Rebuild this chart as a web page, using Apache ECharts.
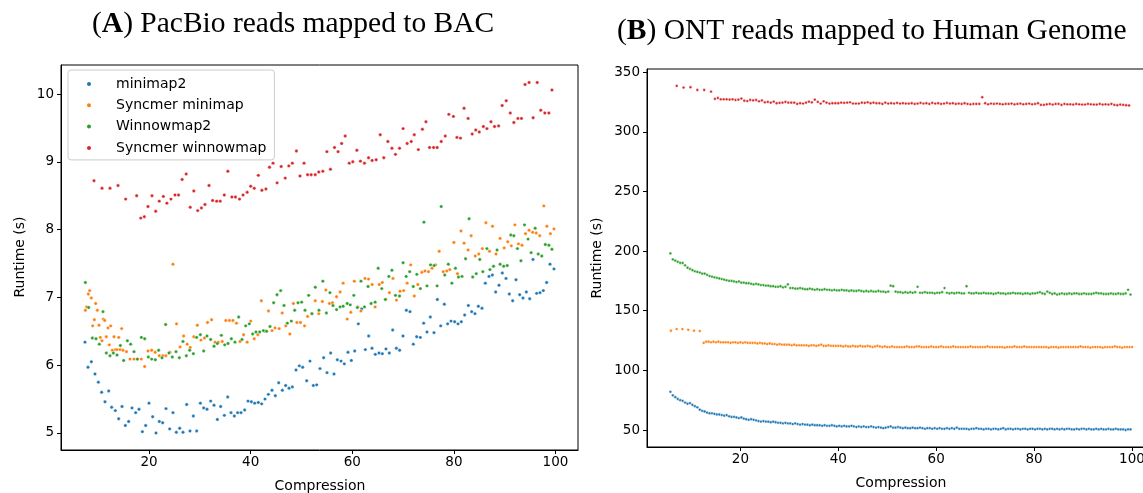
<!DOCTYPE html>
<html>
<head>
<meta charset="utf-8">
<script src="https://cdn.jsdelivr.net/npm/echarts@6/dist/echarts.min.js"></script>
<style>
  html, body { margin: 0; padding: 0; background: #ffffff; }
  #chart { width: 1143px; height: 493px; }
</style>
</head>
<body>
<div id="chart"></div>
<script>
// ---- series names and colours -------------------------------------------
const seriesNames = ['minimap2', 'Syncmer minimap', 'Winnowmap2', 'Syncmer winnowmap'];
const palette = ['#1f77b4', '#ff7f0e', '#2ca02c', '#d62728'];

// ---- tick labels -----------------------------------------------------------
const compressionTicks = [20, 40, 60, 80, 100];
const bacRuntimeTicks = [5, 6, 7, 8, 9, 10];
const genomeRuntimeTicks = [50, 100, 150, 200, 250, 300, 350];

// ---- (A) PacBio reads mapped to BAC: [compression, runtime (s)] ----------
const bacMinimap = [
  [7.38,6.34],[7.97,5.97],[8.63,6.05],[9.35,5.87],[10.01,5.75],[10.66,5.60],[11.32,5.46],[12.04,5.62],[12.63,5.38],[13.35,5.33],
  [14.01,5.21],[14.67,5.39],[15.32,5.11],[15.98,5.17],[16.63,5.37],[17.36,5.30],[18.01,5.35],[18.67,5.02],[19.32,5.11],[19.98,5.44],
  [20.70,5.24],[21.36,5.00],[22.01,5.17],[22.67,5.15],[23.33,5.36],[24.05,5.06],[24.70,5.30],[25.36,5.01],[26.02,5.07],[26.67,5.01],
  [27.40,5.42],[28.05,5.03],[28.71,5.25],[29.36,5.03],[30.09,5.44],[30.74,5.37],[31.40,5.35],[32.12,5.47],[32.78,5.41],[33.43,5.20],
  [34.09,5.39],[34.81,5.26],[35.47,5.53],[36.12,5.30],[36.78,5.25],[37.43,5.30],[38.09,5.30],[38.81,5.34],[39.47,5.47],[40.12,5.46],
  [40.78,5.44],[41.50,5.45],[42.16,5.43],[42.81,5.50],[43.47,5.57],[44.19,5.63],[44.85,5.55],[45.51,5.74],[46.23,5.63],[46.88,5.70],
  [47.54,5.66],[48.20,5.68],[48.92,5.93],[49.57,5.99],[50.23,5.97],[51.02,5.77],[51.67,6.06],[52.33,5.70],[52.99,5.71],[53.64,5.95],
  [54.36,6.11],[55.02,5.89],[55.74,6.18],[56.40,5.87],[57.05,6.08],[57.78,6.06],[58.43,6.02],[59.15,6.19],[59.81,6.07],[60.47,6.21],
  [61.19,6.61],[61.84,6.83],[62.57,6.23],[63.22,6.43],[63.88,6.25],[64.53,6.16],[65.26,6.18],[65.91,6.17],[66.63,6.24],[67.29,6.18],
  [67.95,6.52],[68.67,6.25],[69.32,6.22],[69.98,6.43],[70.64,6.81],[71.36,6.79],[72.01,6.31],[72.67,6.42],[73.39,6.41],[74.05,6.62],
  [74.70,6.49],[75.36,6.71],[76.08,6.48],[76.74,6.97],[77.40,6.58],[78.12,6.90],[78.77,6.61],[79.43,6.65],[80.15,6.64],[80.81,6.61],
  [81.46,6.64],[82.12,6.74],[82.84,6.88],[83.50,6.79],[84.15,6.76],[84.81,6.87],[85.53,6.84],[86.19,7.21],[86.91,7.31],[87.57,7.33],
  [88.22,7.08],[88.88,7.18],[89.53,7.36],[90.26,7.28],[90.91,7.05],[91.57,6.95],[92.22,7.26],[92.95,7.04],[93.60,6.99],[94.26,7.08],
  [94.92,6.98],[95.57,7.56],[96.29,7.06],[96.95,7.07],[97.60,7.10],[98.26,7.22],[98.92,7.49],[99.70,7.42]
];
const bacSyncmerMinimap = [
  [7.45,6.81],[7.71,6.86],[8.04,7.05],[8.30,7.10],[8.63,6.99],[8.89,6.58],[9.22,6.67],[9.48,6.91],[9.81,6.81],[10.14,6.59],
  [10.40,6.41],[10.73,6.36],[11.00,6.68],[11.26,6.66],[11.58,6.42],[11.91,6.55],[12.17,6.30],[12.44,6.58],[12.76,6.22],[13.09,6.42],
  [13.35,6.23],[13.68,6.23],[14.02,6.41],[14.27,6.23],[14.60,6.54],[14.86,6.22],[15.55,6.20],[16.24,6.09],[17.03,6.09],[17.76,6.09],
  [18.47,6.09],[19.13,5.98],[19.78,6.21],[20.50,6.22],[21.20,6.19],[22.00,6.14],[22.70,6.14],[23.30,6.14],[24.10,6.19],[24.70,7.49],
  [25.40,6.61],[26.10,6.27],[26.80,6.43],[27.50,6.31],[28.10,6.26],[28.80,6.42],[29.50,6.59],[30.20,6.37],[30.90,6.40],[31.50,6.63],
  [32.30,6.67],[33.00,6.34],[33.60,6.34],[34.40,6.35],[35.10,6.66],[35.80,6.66],[36.50,6.66],[37.20,6.62],[37.90,6.35],[38.60,6.45],
  [39.30,6.34],[40.00,6.65],[40.70,6.39],[41.40,6.45],[42.10,6.95],[42.80,6.50],[43.50,6.80],[44.20,6.51],[44.80,6.55],[45.60,6.54],
  [46.20,6.77],[46.90,6.58],[47.70,6.46],[48.40,6.91],[49.10,6.63],[49.80,6.63],[50.60,6.58],[51.20,6.72],[52.00,6.76],[52.70,6.95],
  [53.40,6.76],[54.10,6.94],[54.80,7.11],[55.50,6.91],[56.10,6.92],[56.90,7.01],[57.60,7.08],[58.20,7.21],[59.00,6.68],[59.70,6.78],
  [60.40,7.24],[61.10,6.86],[61.70,6.80],[62.50,7.28],[63.20,7.27],[63.90,7.19],[64.50,6.86],[65.30,7.19],[65.90,7.22],[66.60,6.97],
  [67.30,7.07],[68.00,7.28],[68.70,6.96],[69.40,7.09],[70.10,7.10],[70.80,7.21],[71.50,7.48],[72.20,7.02],[72.90,7.19],[73.70,7.37],
  [74.30,7.39],[75.00,7.38],[75.70,7.43],[76.40,7.48],[77.10,7.68],[77.90,7.38],[78.60,7.39],[79.20,7.41],[80.00,7.81],[80.70,7.35],
  [81.40,7.98],[82.00,7.80],[82.80,7.70],[83.40,7.91],[84.20,7.61],[84.90,7.64],[85.60,7.72],[86.30,8.10],[87.00,7.68],[87.60,8.05],
  [88.30,7.64],[89.10,7.87],[89.90,7.73],[90.60,7.82],[91.30,7.76],[92.00,8.07],[92.70,7.79],[93.40,7.77],[94.10,7.94],[94.80,7.99],
  [95.50,7.96],[96.20,7.95],[96.90,7.91],[97.70,8.35],[98.30,8.05],[99.00,7.94],[99.70,8.01]
];
const bacWinnowmap = [
  [7.45,7.22],[8.10,6.85],[8.83,6.40],[9.55,6.39],[10.20,6.31],[10.93,6.79],[11.58,6.18],[12.30,6.14],[12.96,6.18],[13.68,6.15],
  [14.34,6.29],[14.99,6.07],[15.72,6.36],[16.37,6.31],[17.03,6.20],[17.68,6.09],[18.47,6.41],[19.13,6.39],[19.85,6.12],[20.51,6.09],
  [21.23,6.08],[21.88,6.22],[22.54,6.11],[23.26,6.60],[23.92,6.18],[24.57,6.12],[25.30,6.20],[25.95,6.11],[26.67,6.35],[27.33,6.14],
  [27.99,6.22],[28.71,6.17],[29.36,6.41],[30.09,6.45],[30.74,6.21],[31.40,6.43],[32.12,6.38],[32.78,6.28],[33.43,6.32],[34.22,6.44],
  [34.88,6.30],[35.53,6.32],[36.19,6.39],[36.91,6.34],[37.63,6.71],[38.29,6.38],[39.01,6.58],[39.73,6.61],[40.39,6.46],[41.04,6.49],
  [41.77,6.49],[42.49,6.51],[43.14,6.50],[43.80,6.57],[44.52,6.92],[45.18,7.04],[45.90,7.10],[46.56,6.88],[47.21,6.62],[48.00,6.65],
  [48.66,6.81],[49.31,6.92],[50.03,6.93],[50.69,6.81],[51.41,7.03],[52.07,6.76],[52.72,7.15],[53.44,6.81],[54.20,7.24],[54.90,6.77],
  [55.60,7.07],[56.20,6.88],[56.90,6.82],[57.60,6.86],[58.20,6.87],[59.00,6.91],[59.60,6.89],[60.30,7.03],[61.00,6.85],[61.70,7.24],
  [62.40,6.86],[63.10,7.16],[63.70,6.91],[64.50,6.93],[65.10,7.43],[65.80,7.13],[66.50,6.97],[67.20,7.31],[67.80,7.40],[68.50,7.03],
  [69.30,7.02],[70.00,7.51],[70.60,7.31],[71.30,7.38],[72.00,7.16],[72.70,7.34],[73.40,7.13],[74.10,8.11],[74.70,7.17],[75.40,7.48],
  [76.10,7.47],[76.70,7.17],[77.50,8.34],[78.20,7.33],[78.90,7.49],[79.60,7.21],[80.30,7.43],[80.90,7.30],[81.60,7.31],[82.30,7.57],
  [83.00,8.16],[83.70,7.30],[84.40,7.35],[85.10,7.56],[85.70,7.38],[86.50,7.72],[87.10,7.41],[87.80,7.46],[88.50,7.70],[89.10,7.49],
  [89.80,7.46],[90.50,7.47],[91.20,7.92],[91.80,7.91],[92.50,7.72],[93.20,7.54],[93.90,8.07],[94.60,7.86],[95.20,7.66],[96.00,8.02],
  [96.60,7.64],[97.30,7.61],[98.00,7.78],[98.70,7.77],[99.30,7.71]
];
const bacSyncmerWinnowmap = [
  [9.15,8.72],[10.73,8.61],[12.30,8.61],[13.88,8.65],[15.39,8.45],[17.55,8.50],[18.35,8.17],[19.06,8.19],[19.78,8.34],[20.57,8.50],
  [21.30,8.27],[22.00,8.42],[22.80,8.49],[23.50,8.39],[24.30,8.45],[25.10,8.51],[25.80,8.51],[26.50,8.74],[27.30,8.82],[28.10,8.33],
  [28.80,8.57],[29.57,8.28],[30.30,8.32],[31.00,8.37],[31.80,8.65],[32.50,8.43],[33.30,8.42],[34.00,8.42],[34.80,8.51],[35.50,8.86],
  [36.30,8.48],[37.00,8.48],[37.80,8.45],[38.50,8.51],[39.30,8.55],[40.00,8.64],[40.70,8.61],[41.50,8.80],[42.20,8.58],[43.00,8.60],
  [43.70,8.92],[44.40,8.98],[45.20,8.69],[46.00,8.93],[46.80,8.76],[47.50,8.94],[48.20,8.98],[49.00,9.16],[49.70,8.79],[50.50,8.98],
  [51.20,8.81],[51.90,8.81],[52.70,8.81],[53.40,8.85],[54.20,8.86],[55.00,9.15],[55.70,8.89],[56.50,9.21],[57.20,9.15],[57.90,9.27],
  [58.60,9.38],[59.40,8.98],[60.10,9.00],[60.90,9.17],[61.60,9.01],[62.40,8.98],[63.20,9.06],[63.90,9.02],[64.70,9.03],[65.50,9.40],
  [66.20,9.06],[67.00,9.30],[67.80,9.20],[68.50,9.11],[69.30,9.20],[70.00,9.49],[70.80,9.27],[71.60,9.30],[72.20,9.40],[73.00,9.18],
  [73.80,9.48],[74.50,9.59],[75.20,9.21],[76.00,9.21],[76.70,9.21],[77.50,9.30],[78.30,9.38],[79.00,9.70],[79.90,9.67],[80.60,9.36],
  [81.30,9.35],[82.00,9.79],[82.80,9.64],[83.60,9.41],[84.30,9.47],[85.00,9.44],[85.80,9.52],[86.50,9.49],[87.30,9.59],[88.00,9.52],
  [88.80,9.53],[89.50,9.83],[90.30,9.90],[91.10,9.72],[91.80,9.58],[92.60,9.64],[93.30,9.64],[94.00,10.14],[94.80,10.17],[95.60,9.65],
  [96.40,10.17],[97.10,9.76],[97.90,9.72],[98.70,9.72],[99.30,10.06]
];

// ---- (B) ONT reads mapped to Human Genome ----------------------------------
// Each run is a list of runtimes (s) taken at evenly stepped compression levels.
const genomeMinimap = { start: 5.7, step: 0.5, runtimes: [
  82,79,77.5,76,75,74.5,73,72,72.5,71, 70,69,67,66,65.5,64.5,64,64,63.5,63,
  63,62.5,62,62.5,61.5,61,61,60.5,60,60.5, 59.5,59,58.5,59,58.5,58,57.5,57,57.5,57,
  57,56.5,57,56.5,56,56,55.5,56,55.5,55.5, 55,55.5,55,54.5,55,54.5,54.5,54,54.5,54,
  54,54,53.5,54,53.5,53.5,54,53.5,53,53.5, 53,53.5,53,53,53.5,53,52.5,53,52.5,53,
  52.5,52.5,53,52.5,52,52.5,52,51.5,52,52.5, 53,52,52,52.5,52,51.5,52,51.5,51.5,52,
  51.5,51.5,52,51.5,51,51.5,51.5,51,51.5,51, 51.5,51,51,51.5,51,51.5,51,52,51,51,
  51,51,50.5,51,51,51.5,51,51,50.5,51, 51,50.5,51,51,50.5,51,51.5,50.5,51,51,
  50.5,51,51,50.5,51,51,50.5,51,51,50.5, 51,51,50.5,51,50.5,51,51,50.5,51,50.5,
  51,50.5,51,51,50.5,50.5,51,50.5,51,51, 50.5,51,50.5,50.5,51,50.5,51,50.5,50.5,51,
  50.5,50.5,51,50.5,50.5,50.5,50,50.5,50.5
]};
const genomeSyncmerMinimapEarly = { start: 5.8, step: 1.18, runtimes: [133.2,134.6,134.6,134,133.2,132.9] };
const genomeSyncmerMinimap = { start: 12.5, step: 0.5, runtimes: [
  123,124,124,123.5,124,123.5,124,123.5,123.5,123.5, 123.5,123,123.5,123.5,123,123.5,123,123.5,123,123,
  123,123,122.5,123,122.5,122.5,122,122.5,122,122, 121.5,122,121.5,121.5,121.5,121.5,121,121.5,121,121,
  121,121,121,120.5,121,121,120.5,121,121.5,120.5, 120.5,121,120.5,120.5,120.5,120.5,120.5,120,120.5,120,
  120,120.5,120,120,120.5,120,120,120.5,120,119.5, 120,120.5,120,119.5,120,119.5,119.5,120,119.5,119.5,
  119.5,119.5,119.5,120,119.5,119.5,119.5,120,120,119.5, 119.5,119.5,119.5,120,119.5,119.5,119.5,120,119.5,119.5,
  119.5,119.5,120,119.5,119.5,119.5,119.5,119.5,119.5,120, 119.5,119.5,119.5,119.5,119.5,119.5,120,119.5,119.5,119.5,
  119.5,119.5,119.5,119,119.5,119.5,119.5,120,119.5,119.5, 119.5,120,119.5,119.5,119.5,119.5,119.5,119.5,119.5,119.5,
  119.5,119,119.5,119.5,119.5,119,119.5,119.5,119.5,119.5, 119.5,119.5,119.5,119.5,120,119.5,119.5,119.5,119,119.5,
  119.5,119.5,119.5,119,119.5,119.5,119.5,119.5,120,119.5, 119.5,119,119.5,119.5,119.5,119.5
]};
const genomeWinnowmap = { start: 5.7, step: 0.5, runtimes: [
  198,193,192,191,190,190,188,186,185,184, 183,182.5,182,181,181,180,179,178.5,178,177.5,
  177,176.5,176,175.5,175,175,174.5,174,174.5,173.5, 173.5,173,173,172.5,172,172.5,172,171.5,171.5,171,
  171,170.5,170.5,170,170,170.5,169.5,170,172,169, 169,168.5,168.5,169,168.5,168,168,168.5,168,167.5,
  168,167.5,167.5,168,167.5,167.5,167,167.5,167,167, 167.5,167,167,166.5,167,166.5,166.5,167,166.5,166,
  166.5,166,166.5,166,166,166.5,166,166,165.5,166, 171,170.5,166,165.5,165.5,165,165.5,165,165.5,165,
  165.5,170,165,165,165.5,165,165,165,164.5,165, 165,165.5,169,165,164.5,165,164.5,165,165,164.5,
  164.5,170.5,165,164.5,164.5,165,164.5,164.5,165,164.5, 164.5,164.5,164,164.5,165,164.5,164.5,164,164.5,164.5,
  165,164.5,164.5,164.5,164,164.5,164.5,164,164.5,164.5, 165,165.5,164.5,164,166,165,164,164.5,163.5,164,
  164.5,164,164,164.5,164,164.5,164.5,164,164,164.5, 164,164,164,164.5,165,164.5,164.5,164,164,164,
  164.5,164,164,164.5,164,164,164.5,167.5,163.5
]};
const genomeSyncmerWinnowmapEarly = { start: 7.0, step: 1.4, runtimes: [338.4,337,337.3,335,335,333.6] };
const genomeSyncmerWinnowmap = { start: 14.8, step: 0.6, runtimes: [
  327.5,328.3,327.2,327.2,327.2,327,327.2,326.6,326.9,327.8, 326,325.7,326.6,326.3,326.6,325.5,326.3,324.7,325,324.4,
  325.2,323.9,324.2,324.4,325,324.4,324.4,324.4,323.3,323.9, 323.6,324.4,325.2,324.6,326.9,325,323.6,325.5,324.4,323.6,
  323.9,323.9,323.9,324.4,324.2,324.4,324.7,323.6,323.6,323.6, 324.4,324.2,324.7,323.9,324.4,323.9,323.9,323.3,324.4,323.6,
  323.9,323.6,324.2,323.6,323.9,323.6,323.6,323.9,323.3,323.6, 324.2,323.6,323.9,323.3,324.2,323.6,323.9,323.3,323.6,324.2,
  323.6,323.9,323.3,323.6,323.3,323.9,323.3,323,323.3,323.3, 323.3,328.9,323.9,323,323.6,323.3,323.6,323.3,323,323.3,
  323.3,323.6,323,323.3,323.6,323,323.3,323.6,323,323.3, 323.9,322.5,322.5,323,323.3,322.8,323.3,323.3,322.5,323.3,
  323,323,322.8,323.3,323,322.8,322.8,323.3,323,322.8, 322.8,323.3,322.8,323,322.8,323.3,322.5,322.2,322.8,322.5,
  322.2,322
]};

// pair each runtime with its compression level
function toPoints(run) {
  return run.runtimes.map((v, i) => [+(run.start + i * run.step).toFixed(3), v]);
}

const bacData = [bacMinimap, bacSyncmerMinimap, bacWinnowmap, bacSyncmerWinnowmap];
const genomeData = [
  toPoints(genomeMinimap),
  toPoints(genomeSyncmerMinimapEarly).concat(toPoints(genomeSyncmerMinimap)),
  toPoints(genomeWinnowmap),
  toPoints(genomeSyncmerWinnowmapEarly).concat(toPoints(genomeSyncmerWinnowmap))
];

// ---- shared styles ----------------------------------------------------------
const tickFont = { fontFamily: 'DejaVu Sans', fontSize: 13.5, color: '#000' };

function valueAxis(gridIndex, min, max, ticks, isY) {
  return {
    type: 'value', gridIndex, min, max,
    splitLine: { show: false },
    axisLine: { show: true, onZero: false, lineStyle: { color: '#000', width: 1 } },
    axisTick: { show: true, inside: false, length: 4, customValues: ticks, lineStyle: { color: '#000', width: 1 } },
    axisLabel: Object.assign({ customValues: ticks, margin: isY ? 7 : 5 }, tickFont)
  };
}

function scatterSeries(name, color, data, axisIdx, size) {
  return {
    type: 'scatter', name, data,
    xAxisIndex: axisIdx, yAxisIndex: axisIdx,
    symbol: 'circle', symbolSize: size,
    itemStyle: { color, borderColor: '#ffffff', borderWidth: 0.4, opacity: 1 },
    silent: true, animation: false
  };
}

const series = [];
seriesNames.forEach((n, k) => series.push(scatterSeries(n, palette[k], bacData[k], 0, 3.4)));
seriesNames.forEach((n, k) => series.push(scatterSeries(n, palette[k], genomeData[k], 1, 2.8)));

const titleRich = { b: { fontFamily: 'Liberation Serif', fontSize: 29.5, fontWeight: 'bold', fill: '#000' } };

const chart = echarts.init(document.getElementById('chart'), null, { renderer: 'canvas' });
chart.setOption({
  backgroundColor: '#ffffff',
  animation: false,
  grid: [
    { left: 61, top: 65, width: 517, height: 385, show: true, borderColor: '#000', borderWidth: 1,
      backgroundColor: 'transparent', containLabel: false, outerBoundsMode: 'none' },
    { left: 647, top: 69, width: 508, height: 378, show: true, borderColor: '#000', borderWidth: 1,
      backgroundColor: 'transparent', containLabel: false, outerBoundsMode: 'none' }
  ],
  xAxis: [
    valueAxis(0, 2.657, 104.43, compressionTicks, false),
    valueAxis(1, 0.92, 104.7, compressionTicks, false)
  ],
  yAxis: [
    valueAxis(0, 4.749, 10.428, bacRuntimeTicks, true),
    valueAxis(1, 35.76, 352.6, genomeRuntimeTicks, true)
  ],
  legend: {
    data: seriesNames,
    orient: 'vertical',
    left: 68, top: 70,
    icon: 'circle',
    itemWidth: 6, itemHeight: 6,
    itemGap: 7.3,
    padding: [7, 8, 5, 17],
    borderColor: '#cccccc', borderWidth: 1, borderRadius: 3,
    backgroundColor: '#ffffff',
    selectedMode: false,
    textStyle: { fontFamily: 'DejaVu Sans', fontSize: 14, color: '#000', lineHeight: 14, padding: [0, 0, 0, 19] }
  },
  graphic: [
    { type: 'text', x: 92, y: 24, style: {
        text: '({b|A}) PacBio reads mapped to BAC',
        font: '29.5px "Liberation Serif"', fill: '#000', textVerticalAlign: 'middle', rich: titleRich } },
    { type: 'text', x: 617, y: 31, style: {
        text: '({b|B}) ONT reads mapped to Human Genome',
        font: '29.5px "Liberation Serif"', fill: '#000', textVerticalAlign: 'middle', rich: titleRich } },
    { type: 'text', x: 20, y: 257, rotation: Math.PI / 2, style: {
        text: 'Runtime (s)', font: '14px "DejaVu Sans"', fill: '#000', textAlign: 'center', textVerticalAlign: 'middle' } },
    { type: 'text', x: 597, y: 258, rotation: Math.PI / 2, style: {
        text: 'Runtime (s)', font: '14px "DejaVu Sans"', fill: '#000', textAlign: 'center', textVerticalAlign: 'middle' } },
    { type: 'text', x: 320, y: 486, style: {
        text: 'Compression', font: '14px "DejaVu Sans"', fill: '#000', textAlign: 'center', textVerticalAlign: 'middle' } },
    { type: 'text', x: 901, y: 483, style: {
        text: 'Compression', font: '14px "DejaVu Sans"', fill: '#000', textAlign: 'center', textVerticalAlign: 'middle' } }
  ],
  series
});
</script>
</body>
</html>
